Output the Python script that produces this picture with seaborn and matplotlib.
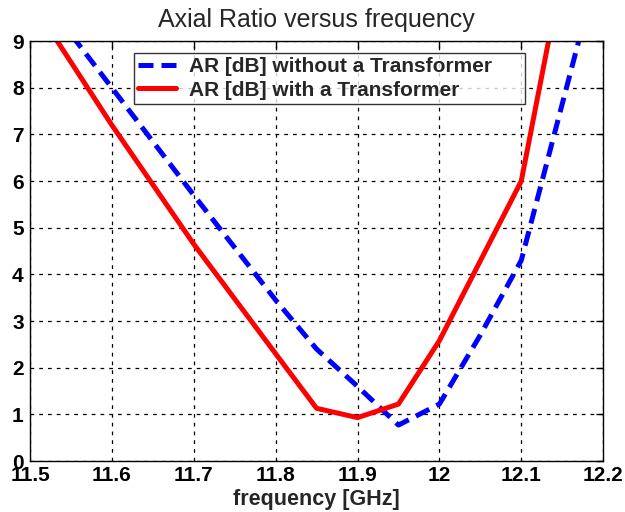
import matplotlib
matplotlib.use("Agg")
import matplotlib.pyplot as plt
import seaborn as sns
import pandas as pd

freq_without = [11.5, 11.6, 11.7, 11.8, 11.85, 11.9, 11.95, 12.0, 12.05, 12.1, 12.2]
ar_without = [10.3, 8.0, 5.7, 3.45, 2.4, 1.6, 0.77, 1.22, 2.7, 4.3, 11.0]
freq_with = [11.5, 11.6, 11.7, 11.8, 11.85, 11.9, 11.95, 12.0, 12.1, 12.15]
ar_with = [9.9, 7.2, 4.65, 2.3, 1.13, 0.93, 1.22, 2.58, 6.0, 10.5]
label_without = "AR [dB] without a Transformer"
label_with = "AR [dB] with a Transformer"
x_ticks = [11.5, 11.6, 11.7, 11.8, 11.9, 12.0, 12.1, 12.2]
x_tick_labels = ["11.5", "11.6", "11.7", "11.8", "11.9", "12", "12.1", "12.2"]
y_ticks = [0, 1, 2, 3, 4, 5, 6, 7, 8, 9]

sns.set_style("white")
plt.rcParams["font.family"] = ["Liberation Sans", "DejaVu Sans"]

df_wo = pd.DataFrame({"f": freq_without, "ar": ar_without})
df_w = pd.DataFrame({"f": freq_with, "ar": ar_with})

fig = plt.figure(figsize=(6.25, 5.12), dpi=100)
ax = fig.add_axes([0.048, 0.0996, 0.917, 0.82])

LW = 3.6
sns.lineplot(data=df_wo, x="f", y="ar", ax=ax, color="#0000ff", lw=LW,
             label=label_without, sort=False)
ax.lines[-1].set_dashes([3.0, 1.6])
sns.lineplot(data=df_w, x="f", y="ar", ax=ax, color="#ff0000", lw=LW,
             label=label_with, sort=False)

ax.set_xlim(11.5, 12.2)
ax.set_ylim(0, 9)
ax.set_xticks(x_ticks)
ax.set_xticklabels(x_tick_labels)
ax.set_yticks(y_ticks)
ax.grid(True, color="black", linestyle=(0, (3, 4)), linewidth=0.9)
for s in ax.spines.values():
    s.set_color("black")
    s.set_linewidth(1.0)
ax.tick_params(direction="in", top=True, right=True, length=5, width=1,
               labelsize=15, colors="black")
ax.tick_params(axis="x", pad=3.5)
ax.tick_params(axis="y", pad=4.5)
for lab in ax.get_xticklabels() + ax.get_yticklabels():
    lab.set_fontweight("bold")

ax.set_xlabel("frequency [GHz]", fontsize=15.5, fontweight="bold", labelpad=3)
ax.set_ylabel("")
ax.set_title("Axial Ratio versus frequency", fontsize=18, pad=10)

leg = ax.legend(loc="upper left", bbox_to_anchor=(0.1815, 0.8524, 0.6824, 0.119),
                mode="expand", borderaxespad=0,
                prop={"size": 15, "weight": "bold"},
                frameon=True, fancybox=False, edgecolor="black",
                handlelength=1.8, handletextpad=0.65, borderpad=0.2,
                labelspacing=0.2)
leg.get_frame().set_linewidth(1.0)
for h in leg.get_lines():
    h.set_linewidth(LW)

fig.savefig("out.png", dpi=100)
